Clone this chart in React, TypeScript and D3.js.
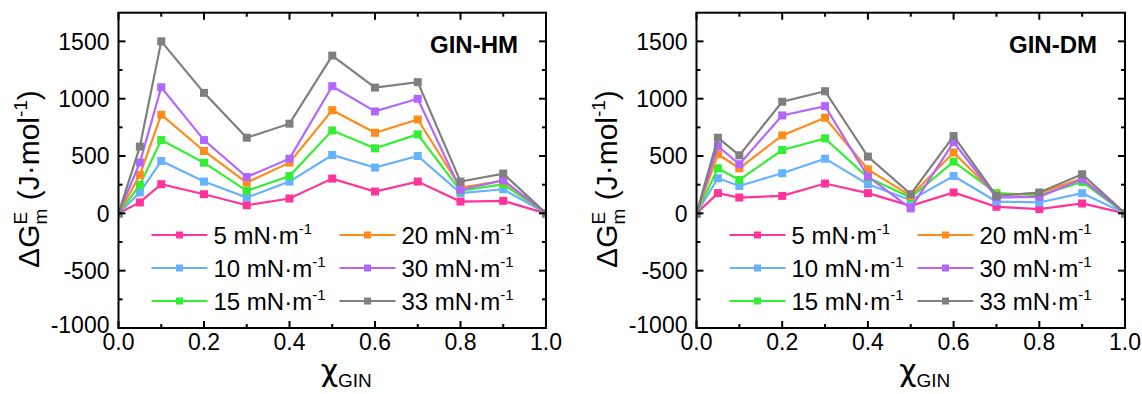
import React, { useEffect, useRef } from 'react'
import * as d3 from 'd3'

// mole fraction of GIN
const xs = [0, 0.05, 0.1, 0.2, 0.3, 0.4, 0.5, 0.6, 0.7, 0.8, 0.9, 1.0]

// GIN-HM, excess Gibbs energy (J/mol)
const hm5 = [0, 95, 254, 167, 71, 129, 303, 190, 277, 103, 109, 0]
const hm10 = [0, 182, 457, 277, 138, 277, 509, 399, 500, 176, 210, 0]
const hm15 = [0, 248, 639, 442, 196, 326, 723, 567, 689, 196, 254, 0]
const hm20 = [0, 335, 860, 544, 268, 442, 900, 703, 819, 225, 283, 0]
const hm30 = [0, 443, 1100, 639, 317, 477, 1109, 889, 999, 205, 289, 0]
const hm33 = [0, 582, 1500, 1051, 660, 782, 1376, 1097, 1144, 277, 347, 0]

// GIN-DM
const dm5 = [0, 176, 138, 152, 260, 176, 65, 182, 57, 37, 86, 0]
const dm10 = [0, 306, 239, 350, 477, 254, 115, 326, 103, 95, 176, 0]
const dm15 = [0, 393, 291, 552, 654, 312, 138, 451, 176, 158, 274, 0]
const dm20 = [0, 515, 393, 680, 834, 384, 152, 530, 158, 176, 303, 0]
const dm30 = [0, 587, 428, 854, 935, 321, 43, 622, 138, 144, 297, 0]
const dm33 = [0, 660, 506, 973, 1065, 495, 167, 674, 152, 182, 341, 0]

const pressures = ['5', '10', '15', '20', '30', '33']
const colors = ['#ff3399', '#66b2ff', '#33ee33', '#ff8c1a', '#b266ff', '#7f7f7f']
const yMajor = [-1000, -500, 0, 500, 1000, 1500]
const yMinor = [-750, -250, 250, 750, 1250]
const xMajor = [0, 0.2, 0.4, 0.6, 0.8, 1.0]
const xMinor = [0.1, 0.3, 0.5, 0.7, 0.9]

const panels = [
  { title: 'GIN-HM', left: 118.5, right: 546, series: [hm5, hm10, hm15, hm20, hm30, hm33] },
  { title: 'GIN-DM', left: 696.5, right: 1125, series: [dm5, dm10, dm15, dm20, dm30, dm33] },
]

const FONT = "'Liberation Sans', Arial, sans-serif"

export default function App() {
  const svgRef = useRef<SVGSVGElement>(null)

  useEffect(() => {
    document.body.style.margin = '0'
    const width = 1142, height = 394, top = 12.7, bottom = 328
    const svg = d3.select(svgRef.current)
    svg.selectAll('*').remove()
    svg.attr('font-family', FONT)

    const y = d3.scaleLinear().domain([-1000, 1750]).range([bottom, top])

    panels.forEach((p, pi) => {
      const x = d3.scaleLinear().domain([0, 1]).range([p.left, p.right])
      const g = svg.append('g')
      const clipId = `clip${pi}`
      g.append('clipPath').attr('id', clipId)
        .append('rect').attr('x', p.left).attr('y', top)
        .attr('width', p.right - p.left).attr('height', bottom - top)

      // data
      const line = d3.line<number>().x((_, i) => x(xs[i])).y(d => y(d))
      const plot = g.append('g').attr('clip-path', `url(#${clipId})`)
      p.series.forEach((vals, si) => {
        plot.append('path').attr('d', line(vals)!).attr('fill', 'none')
          .attr('stroke', colors[si]).attr('stroke-width', 2.2)
        plot.selectAll(null).data(vals).join('rect')
          .attr('x', (_, i) => x(xs[i]) - 4).attr('y', d => y(d) - 4)
          .attr('width', 8).attr('height', 8).attr('fill', colors[si])
      })

      // ticks (inward, all four sides)
      const tk = g.append('g').attr('stroke', '#000').attr('stroke-width', 2)
      const tick = (vals: number[], len: number) => {
        vals.forEach(v => {
          tk.append('line').attr('x1', p.left).attr('x2', p.left + len).attr('y1', y(v)).attr('y2', y(v))
          tk.append('line').attr('x1', p.right).attr('x2', p.right - len).attr('y1', y(v)).attr('y2', y(v))
        })
      }
      const xtick = (vals: number[], len: number) => {
        vals.forEach(v => {
          tk.append('line').attr('y1', bottom).attr('y2', bottom - len).attr('x1', x(v)).attr('x2', x(v))
          tk.append('line').attr('y1', top).attr('y2', top + len).attr('x1', x(v)).attr('x2', x(v))
        })
      }
      tick(yMajor, 7); tick(yMinor, 4)
      xtick(xMajor, 7); xtick(xMinor, 4)

      g.append('rect').attr('x', p.left).attr('y', top)
        .attr('width', p.right - p.left).attr('height', bottom - top)
        .attr('fill', 'none').attr('stroke', '#000').attr('stroke-width', 2)

      // tick labels
      yMajor.forEach(v => {
        g.append('text').attr('x', p.left - 9).attr('y', y(v)).attr('dy', v === -1000 ? '0.2em' : '0.36em')
          .attr('text-anchor', 'end').attr('font-size', 23).text(v)
      })
      xMajor.forEach(v => {
        g.append('text').attr('x', x(v)).attr('y', 350)
          .attr('text-anchor', 'middle').attr('font-size', 23).text(d3.format('.1f')(v))
      })

      // axis titles
      const xl = g.append('text').attr('x', (p.left + p.right) / 2 + 14).attr('y', 381)
        .attr('text-anchor', 'middle')
      xl.append('tspan').attr('font-size', 30).attr('font-family', "'DejaVu Sans', sans-serif").text('χ')
      xl.append('tspan').attr('font-size', 19).attr('dy', 6).text('GIN')

      const yl = g.append('text').attr('text-anchor', 'middle')
        .attr('transform', `translate(${p.left - 80},179) rotate(-90)`)
      yl.append('tspan').attr('font-size', 30).text('ΔG')
      yl.append('tspan').attr('font-size', 19).attr('dy', -12).text('E')
      yl.append('tspan').attr('font-size', 19).attr('dx', -12.7).attr('dy', 20).text('m')
      yl.append('tspan').attr('font-size', 30).attr('dy', -8).text(' (J·mol')
      yl.append('tspan').attr('font-size', 19).attr('dy', -12).text('-1')
      yl.append('tspan').attr('font-size', 30).attr('dy', 12).text(')')

      // panel title
      g.append('text').attr('x', p.right - 28).attr('y', 53).attr('text-anchor', 'end')
        .attr('font-size', 24).attr('font-weight', 'bold').text(p.title)

      // legend
      pressures.forEach((pr, si) => {
        const col = Math.floor(si / 3), row = si % 3
        const lx = p.left + (col === 0 ? 33 : 221)
        const ly = 235 + row * 33
        g.append('line').attr('x1', lx).attr('x2', lx + 56).attr('y1', ly).attr('y2', ly)
          .attr('stroke', colors[si]).attr('stroke-width', 2.2)
        g.append('rect').attr('x', lx + 28 - 3.5).attr('y', ly - 3.5)
          .attr('width', 7).attr('height', 7).attr('fill', colors[si])
        const t = g.append('text').attr('x', lx + 62).attr('y', ly + 8.5).attr('font-size', 24)
        t.append('tspan').text(`${pr} mN·m`)
        t.append('tspan').attr('font-size', 15).attr('dy', -10).text('-1')
      })
    })

    svg.attr('width', width).attr('height', height)
  }, [])

  return <svg ref={svgRef} width={1142} height={394} style={{ display: 'block', background: '#fff' }} />
}
